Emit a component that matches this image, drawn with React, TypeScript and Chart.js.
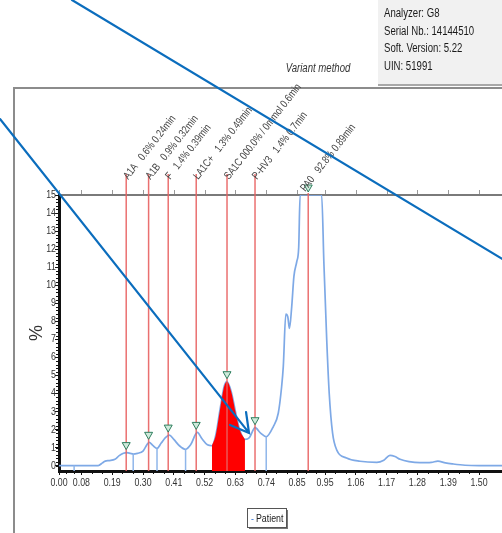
import React, { useEffect, useRef } from "react";
import { Chart, registerables } from "chart.js";

Chart.register(...registerables);

// ---- data ----
const retentionTimes = [
  0.0, 0.05, 0.14, 0.155, 0.165, 0.18, 0.2, 0.215, 0.23, 0.242, 0.255, 0.265, 0.28, 0.3,
  0.315, 0.322, 0.335, 0.35, 0.365, 0.38, 0.394, 0.41, 0.43, 0.452, 0.47, 0.494, 0.51, 0.53,
  0.546, 0.56, 0.575, 0.59, 0.6, 0.615, 0.63, 0.645, 0.664, 0.68, 0.7, 0.72, 0.74, 0.765,
  0.783, 0.795, 0.801, 0.81, 0.817, 0.823, 0.831, 0.839, 0.849, 0.856, 0.861, 0.938, 0.946,
  0.956, 0.965, 0.977, 0.992, 1.027, 1.075, 1.135, 1.16, 1.182, 1.2, 1.218, 1.25, 1.289,
  1.33, 1.353, 1.38, 1.407, 1.45, 1.5, 1.582,
];
const signalPercent = [
  0.0, 0.0, 0.0, 0.15, 0.25, 0.28, 0.35, 0.55, 0.68, 0.72, 0.68, 0.64, 0.68, 0.8,
  1.18, 1.29, 1.12, 0.95, 1.25, 1.55, 1.69, 1.45, 1.1, 0.9, 1.15, 1.84, 1.5, 1.15,
  1.1, 1.7, 3.1, 4.4, 4.65, 4.1, 3.0, 2.0, 1.45, 1.55, 2.1, 1.8, 1.6, 2.15,
  2.9, 4.37, 5.5, 8.4, 8.25, 7.6, 8.8, 10.5, 11.3, 12.1, 15.0, 15.0, 11.2,
  7.0, 4.0, 1.8, 0.86, 0.42, 0.24, 0.18, 0.3, 0.57, 0.5, 0.35, 0.22, 0.16,
  0.18, 0.25, 0.15, 0.09, 0.02, 0.0, 0.0,
];

const xTickValues = [0.0, 0.08, 0.19, 0.3, 0.41, 0.52, 0.63, 0.74, 0.85, 0.95, 1.06, 1.17, 1.28, 1.39, 1.5];
const xTickLabels = ["0.00", "0.08", "0.19", "0.30", "0.41", "0.52", "0.63", "0.74", "0.85", "0.95", "1.06", "1.17", "1.28", "1.39", "1.50"];
const yTickValues = [0, 1, 2, 3, 4, 5, 6, 7, 8, 9, 10, 11, 12, 13, 14, 15];
const yTickLabels = ["0", "1", "2", "3", "4", "5", "6", "7", "8", "9", "10", "11", "12", "13", "14", "15"];

const peakNames = ["A1A", "A1B", "F", "LA1C+", "SA1C", "P-HV3", "PA0"];
const peakShares = ["0.6%", "0.9%", "1.4%", "1.3%", "000.0% / 0mmol", "1.4%", "92.8%"];
const peakTimeLabels = ["0.24min", "0.32min", "0.39min", "0.49min", "0.6min", "0.7min", "0.89min"];
const peakTimes = [0.24, 0.32, 0.39, 0.49, 0.6, 0.7, 0.89];
const peakHeights = [0.72, 1.29, 1.69, 1.84, 4.65, 2.1, 92.8];

const windowBounds = [0.054, 0.265, 0.35, 0.452, 0.74];
const highlightedRange = [0.546, 0.664];

const infoLines = ["Analyzer: G8", "Serial Nb.: 14144510", "Soft. Version: 5.22", "UIN: 51991"];
const methodTitle = "Variant method";
const yAxisTitle = "%";
const seriesName = "Patient";

// overlay arrows (in chart data coordinates)
const arrowLineA = [[0.0464, 25.81], [1.6, 11.3]];
const arrowLineB = [[-0.2107, 19.21], [0.6786, 1.81]];
const arrowHeadB = [[0.6679, 2.97], [0.6107, 2.25]];

const SANS = "'Liberation Sans', Arial, sans-serif";
const SQUEEZE = 0.8;

function narrowText(
  ctx: CanvasRenderingContext2D,
  text: string,
  x: number,
  y: number,
  size: number,
  opts: { align?: CanvasTextAlign; baseline?: CanvasTextBaseline; color?: string; italic?: boolean; angle?: number } = {}
) {
  ctx.save();
  ctx.translate(x, y);
  if (opts.angle) ctx.rotate((opts.angle * Math.PI) / 180);
  ctx.scale(SQUEEZE, 1);
  ctx.font = `${opts.italic ? "italic " : ""}${size}px ${SANS}`;
  ctx.textAlign = opts.align || "left";
  ctx.textBaseline = opts.baseline || "alphabetic";
  ctx.fillStyle = opts.color || "#222";
  ctx.fillText(text, 0, 0);
  ctx.restore();
}

export default function App() {
  const ref = useRef<HTMLCanvasElement>(null);

  useEffect(() => {
    const canvas = ref.current!;
    const curve = retentionTimes.map((t, i) => ({ x: t, y: signalPercent[i] }));
    const fillPts = curve.filter(
      (p) => p.x >= highlightedRange[0] - 1e-9 && p.x <= highlightedRange[1] + 1e-9
    );
    const valueAt = (t: number) => {
      for (let i = 1; i < retentionTimes.length; i++) {
        if (t <= retentionTimes[i]) {
          const t0 = retentionTimes[i - 1], t1 = retentionTimes[i];
          const f = (t - t0) / (t1 - t0);
          return signalPercent[i - 1] + f * (signalPercent[i] - signalPercent[i - 1]);
        }
      }
      return signalPercent[signalPercent.length - 1];
    };

    const decor = {
      id: "chromDecor",
      beforeDraw(chart: any) {
        const ctx = chart.ctx as CanvasRenderingContext2D;
        const { top, left, right } = chart.chartArea;
        const xs = chart.scales.x;
        ctx.save();
        ctx.fillStyle = "#ffffff";
        ctx.fillRect(0, 0, chart.width, chart.height);

        // info box
        ctx.fillStyle = "#f1f1f1";
        ctx.fillRect(378, 0, 130, 84);
        ctx.fillStyle = "#a8a8a8";
        ctx.fillRect(378, 84, 130, 2);
        infoLines.forEach((s, i) => narrowText(ctx, s, 384, 17 + i * 17.6, 12, { color: "#1a1a1a" }));

        // method title
        narrowText(ctx, methodTitle, 318, 72, 12, { align: "center", italic: true, color: "#333" });

        // outer frame
        ctx.strokeStyle = "#8c8c8c";
        ctx.lineWidth = 2;
        ctx.beginPath();
        ctx.moveTo(14, chart.height);
        ctx.lineTo(14, 88);
        ctx.lineTo(chart.width, 88);
        ctx.stroke();

        // top border of the plot
        ctx.strokeStyle = "#7a7a7a";
        ctx.lineWidth = 2;
        ctx.beginPath();
        ctx.moveTo(left, top);
        ctx.lineTo(right, top);
        ctx.stroke();
        ctx.lineWidth = 1;
        ctx.strokeStyle = "#999";
        xTickValues.forEach((v) => {
          const px = Math.round(xs.getPixelForValue(v)) + 0.5;
          ctx.beginPath();
          ctx.moveTo(px, top - 1);
          ctx.lineTo(px, top - 5);
          ctx.stroke();
        });

        // y title
        ctx.translate(37, 333);
        ctx.rotate(-Math.PI / 2);
        ctx.font = `18px ${SANS}`;
        ctx.fillStyle = "#333";
        ctx.textAlign = "center";
        ctx.textBaseline = "middle";
        ctx.fillText(yAxisTitle, 0, 0);
        ctx.restore();
      },
      afterDatasetsDraw(chart: any) {
        const ctx = chart.ctx as CanvasRenderingContext2D;
        const { top, bottom } = chart.chartArea;
        const xs = chart.scales.x;
        const ys = chart.scales.y;
        ctx.save();

        // peak window separators
        ctx.strokeStyle = "#8fb6ea";
        ctx.lineWidth = 1.5;
        windowBounds.forEach((t) => {
          const px = xs.getPixelForValue(t);
          ctx.beginPath();
          ctx.moveTo(px, bottom);
          ctx.lineTo(px, ys.getPixelForValue(valueAt(t)));
          ctx.stroke();
        });

        // peak lines
        peakTimes.forEach((t, i) => {
          const px = xs.getPixelForValue(t);
          const off = peakHeights[i] > ys.max;
          ctx.strokeStyle = "rgba(232,96,96,0.9)";
          ctx.lineWidth = 1.5;
          ctx.beginPath();
          ctx.moveTo(px, bottom);
          ctx.lineTo(px, off ? top - 2 : top - 21);
          ctx.stroke();
        });

        // markers
        peakTimes.forEach((t, i) => {
          const px = xs.getPixelForValue(t);
          const py = Math.max(ys.getPixelForValue(Math.min(peakHeights[i], ys.max)), top);
          const tip = py - 3;
          ctx.beginPath();
          ctx.moveTo(px - 4, tip - 7);
          ctx.lineTo(px + 4, tip - 7);
          ctx.lineTo(px, tip);
          ctx.closePath();
          ctx.fillStyle = "#cfeadb";
          ctx.fill();
          ctx.strokeStyle = "#2f7f5f";
          ctx.lineWidth = 1;
          ctx.stroke();
        });

        // rotated peak labels
        peakTimes.forEach((t, i) => {
          const px = xs.getPixelForValue(t);
          const off = peakHeights[i] > ys.max;
          const gap = i === 4 ? " " : "   ";
          narrowText(
            ctx,
            `${peakNames[i]}${gap}${peakShares[i]} ${peakTimeLabels[i]}`,
            off ? px - 3 : px + 2,
            off ? top - 3 : top - 15,
            11,
            { angle: -52, color: "#444" }
          );
        });
        ctx.restore();
      },
      afterDraw(chart: any) {
        const ctx = chart.ctx as CanvasRenderingContext2D;
        const { bottom, left } = chart.chartArea;
        const xs = chart.scales.x;
        const ys = chart.scales.y;
        ctx.save();
        // tick labels
        xTickValues.forEach((v, i) =>
          narrowText(ctx, xTickLabels[i], xs.getPixelForValue(v), bottom + 12, 11, {
            align: "center",
            baseline: "middle",
            color: "#333",
          })
        );
        yTickValues.forEach((v, i) =>
          narrowText(ctx, yTickLabels[i], left - 3, ys.getPixelForValue(v), 11, {
            align: "right",
            baseline: "middle",
            color: "#333",
          })
        );
        // minor ticks
        ctx.strokeStyle = "#111";
        ctx.lineWidth = 1;
        for (let v = 0; v <= 15.001; v += 0.2) {
          const py = Math.round(ys.getPixelForValue(v)) + 0.5;
          ctx.beginPath();
          ctx.moveTo(left - 1, py);
          ctx.lineTo(left - 3, py);
          ctx.stroke();
        }
        for (let i = 1; i < xTickValues.length; i++) {
          const a = xTickValues[i - 1], b = xTickValues[i];
          for (let k = 1; k < 3; k++) {
            const px = Math.round(xs.getPixelForValue(a + ((b - a) * k) / 3)) + 0.5;
            ctx.beginPath();
            ctx.moveTo(px, bottom + 1);
            ctx.lineTo(px, bottom + 3);
            ctx.stroke();
          }
        }

        // legend
        const lx = 247, ly = 508, lw = 39, lh = 19;
        ctx.fillStyle = "#777";
        ctx.fillRect(lx + 2, ly + 2, lw, lh);
        ctx.fillStyle = "#fff";
        ctx.fillRect(lx, ly, lw, lh);
        ctx.strokeStyle = "#555";
        ctx.lineWidth = 1;
        ctx.strokeRect(lx + 0.5, ly + 0.5, lw, lh);
        narrowText(ctx, "-", lx + 4, ly + lh / 2 + 1, 11, { baseline: "middle", color: "#3a78d8" });
        narrowText(ctx, seriesName, lx + 9, ly + lh / 2 + 1, 11, { baseline: "middle", color: "#222" });

        // overlay arrows
        const P = (p: number[]) => [xs.getPixelForValue(p[0]), ys.getPixelForValue(p[1])];
        ctx.strokeStyle = "#0b6dbd";
        ctx.lineWidth = 2.2;
        ctx.lineCap = "round";
        const [a0, a1] = arrowLineA.map(P);
        ctx.beginPath();
        ctx.moveTo(a0[0], a0[1]);
        ctx.lineTo(a1[0], a1[1]);
        ctx.stroke();
        const [b0, b1] = arrowLineB.map(P);
        const [h0, h1] = arrowHeadB.map(P);
        ctx.beginPath();
        ctx.moveTo(b0[0], b0[1]);
        ctx.lineTo(b1[0], b1[1]);
        ctx.moveTo(h0[0], h0[1]);
        ctx.lineTo(b1[0], b1[1]);
        ctx.lineTo(h1[0], h1[1]);
        ctx.stroke();
        ctx.restore();
      },
    };

    const chart = new Chart(canvas, {
      type: "line",
      data: {
        datasets: [
          {
            label: "SA1C window",
            data: fillPts,
            borderWidth: 0,
            borderColor: "#ff0000",
            backgroundColor: "#ff0000",
            pointRadius: 0,
            fill: "start",
            order: 0,
            cubicInterpolationMode: "monotone",
          },
          {
            label: seriesName,
            data: curve,
            borderColor: "#7ea9e6",
            borderWidth: 1.7,
            pointRadius: 0,
            fill: false,
            order: 1,
            cubicInterpolationMode: "monotone",
          },
        ],
      },
      options: {
        responsive: false,
        animation: false,
        layout: { padding: { left: 0, right: 0, top: 195, bottom: 0 } },
        plugins: { legend: { display: false }, tooltip: { enabled: false } },
        scales: {
          x: {
            type: "linear",
            min: 0,
            max: 1.582,
            z: 1,
            afterBuildTicks: (s: any) => {
              s.ticks = xTickValues.map((v) => ({ value: v }));
            },
            afterFit: (s: any) => {
              s.height = 62;
            },
            ticks: { display: false },
            grid: { drawOnChartArea: false, drawTicks: true, tickLength: 4, color: "#111", lineWidth: 1 },
            border: { color: "#111", width: 3 },
          },
          y: {
            type: "linear",
            min: -0.3,
            max: 15,
            z: 1,
            afterBuildTicks: (s: any) => {
              s.ticks = yTickValues.map((v) => ({ value: v }));
            },
            afterFit: (s: any) => {
              s.width = 59;
            },
            ticks: { display: false },
            grid: { drawOnChartArea: false, drawTicks: true, tickLength: 4, color: "#111", lineWidth: 1 },
            border: { color: "#111", width: 3 },
          },
        },
      },
      plugins: [decor],
    } as any);
    return () => chart.destroy();
  }, []);

  return (
    <div style={{ position: "fixed", left: 0, top: 0, width: 502, height: 533, background: "#fff", overflow: "hidden" }}>
      <canvas ref={ref} width={502} height={533} style={{ display: "block", width: 502, height: 533 }} />
    </div>
  );
}
